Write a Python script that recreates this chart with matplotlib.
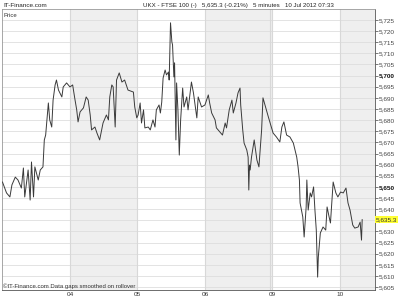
import matplotlib
matplotlib.use("Agg")
import matplotlib.pyplot as plt
import numpy as np

# tempo em dias de pregão desde 03 Jul (0 = início) e preço do FTSE 100
tempo = [0.00, 0.06, 0.11, 0.14, 0.19, 0.23, 0.28, 0.31, 0.33, 0.38, 0.41, 0.43, 0.46, 0.48,
         0.53, 0.56, 0.60, 0.62, 0.64, 0.68, 0.70, 0.73, 0.75, 0.78, 0.80, 0.83, 0.88, 0.90,
         0.95, 1.00, 1.04, 1.07, 1.10, 1.12, 1.15, 1.20, 1.24, 1.27, 1.30, 1.32, 1.37, 1.40,
         1.44, 1.49, 1.54, 1.57, 1.59, 1.62, 1.64, 1.67, 1.69, 1.73, 1.77, 1.81, 1.86, 1.94,
         1.96, 1.99, 2.01, 2.04, 2.06, 2.09, 2.11, 2.16, 2.19, 2.21, 2.23, 2.26, 2.28, 2.32,
         2.34, 2.36, 2.38, 2.41, 2.43, 2.46, 2.47, 2.49, 2.51, 2.52, 2.54, 2.55, 2.57, 2.58,
         2.60, 2.62, 2.64, 2.67, 2.69, 2.73, 2.75, 2.80, 2.83, 2.88, 2.90, 2.95, 3.00, 3.05,
         3.07, 3.10, 3.15, 3.17, 3.22, 3.26, 3.30, 3.32, 3.36, 3.40, 3.42, 3.46, 3.49, 3.52,
         3.53, 3.56, 3.58, 3.62, 3.64, 3.65, 3.66, 3.67, 3.69, 3.73, 3.77, 3.80, 3.84, 3.86,
         3.94, 4.01, 4.06, 4.11, 4.14, 4.17, 4.21, 4.26, 4.31, 4.36, 4.38, 4.40, 4.41, 4.45,
         4.47, 4.50, 4.51, 4.53, 4.56, 4.58, 4.61, 4.63, 4.65, 4.67, 4.68, 4.71, 4.75, 4.79,
         4.81, 4.84, 4.86, 4.88, 4.90, 4.94, 4.97, 5.01, 5.05, 5.09, 5.12, 5.15, 5.19, 5.22,
         5.27, 5.30, 5.32, 5.33]
preco = [5652.2, 5647.3, 5645.5, 5650.9, 5654.4, 5653.1, 5649.5, 5658.5, 5645.5, 5657.6,
         5644.1, 5661.2, 5645.5, 5659.0, 5653.1, 5657.6, 5659.0, 5671.1, 5673.3, 5687.7,
         5680.1, 5676.9, 5689.0, 5695.8, 5698.0, 5693.5, 5690.4, 5694.9, 5696.7, 5694.9,
         5695.8, 5690.0, 5684.6, 5679.2, 5683.7, 5685.5, 5690.4, 5689.0, 5682.3, 5675.6,
         5676.9, 5674.2, 5671.1, 5678.7, 5682.3, 5680.1, 5690.4, 5695.8, 5694.9, 5676.9,
         5698.0, 5701.2, 5697.1, 5698.0, 5693.5, 5692.6, 5685.9, 5681.0, 5682.3, 5687.7,
         5678.7, 5684.6, 5676.5, 5676.9, 5675.6, 5677.8, 5680.1, 5676.9, 5684.6, 5686.8,
         5683.2, 5688.1, 5698.9, 5702.5, 5700.3, 5701.6, 5698.0, 5723.7, 5715.1, 5713.8,
         5699.4, 5705.7, 5671.1, 5696.7, 5684.6, 5664.3, 5680.1, 5694.4, 5685.9, 5690.4,
         5684.6, 5697.1, 5692.2, 5681.0, 5690.4, 5685.9, 5686.8, 5691.3, 5687.7, 5683.2,
         5680.1, 5676.5, 5674.7, 5673.3, 5678.7, 5676.5, 5684.6, 5689.0, 5683.2, 5687.7,
         5692.2, 5694.4, 5686.8, 5675.6, 5669.7, 5666.6, 5663.4, 5648.6, 5659.8, 5657.6,
         5663.4, 5671.1, 5662.1, 5659.0, 5675.6, 5690.0, 5681.4, 5674.2, 5672.4, 5670.2,
         5676.9, 5679.2, 5673.3, 5672.4, 5669.7, 5663.4, 5659.0, 5653.1, 5642.8, 5636.5,
         5627.5, 5641.0, 5653.1, 5639.6, 5647.3, 5645.5, 5650.0, 5639.6, 5630.6, 5609.5,
         5618.5, 5629.3, 5632.0, 5630.6, 5641.0, 5636.5, 5633.8, 5642.8, 5652.2, 5647.3,
         5645.5, 5647.7, 5647.3, 5649.5, 5642.8, 5639.6, 5632.9, 5631.5, 5632.0, 5634.2,
         5626.1, 5635.3]

dias_pos = [1, 2, 3, 4, 5]
dias_rot = ["04", "05", "06", "09", "10"]
faixas = [(1, 2), (3, 4), (5, 5.6)]
ultimo = 5635.3

fonte = "Liberation Sans"
plt.rcParams["font.family"] = [fonte, "DejaVu Sans"]

fig = plt.figure(figsize=(4, 3), dpi=100)
ax = fig.add_axes([0.005, 0.0333, 0.9325, 0.9367])

for a, b in faixas:
    ax.axvspan(a, b, color="#efefef", lw=0, zorder=0)
for p in np.arange(5605, 5730, 5):
    ax.axhline(p, color="#dedede", lw=0.6, zorder=1)
for d in dias_pos:
    ax.axvline(d, color="#d8d8d8", lw=0.8, zorder=1)
ax.axvline(3.97, color="#d8d8d8", lw=0.8, zorder=1)

ax.plot(tempo, preco, color="#3a3a3a", lw=0.7, zorder=3)

ax.set_xlim(-0.007, 5.52)
ax.set_ylim(5603.7, 5729.9)

ax.set_xticks(dias_pos)
ax.set_xticklabels(dias_rot)
ax.tick_params(axis="x", length=0, pad=1.5, labelsize=4.6, colors="#333333")

# o rótulo 5,635 fica escondido pela etiqueta do último preço
ax.yaxis.tick_right()
yt = list(range(5605, 5730, 5))
ax.set_yticks(yt)
ax.set_yticklabels(["" if v == 5635 else f"{v:,}" for v in yt])
ax.tick_params(axis="y", length=2, width=0.5, pad=0.8, labelsize=4.6,
               colors="#444444")
for lbl in ax.get_yticklabels():
    if lbl.get_text() in ("5,700", "5,650"):
        lbl.set_fontweight("bold")
        lbl.set_color("#111111")

for s in ax.spines.values():
    s.set_color("#999999")
    s.set_linewidth(0.6)
ax.spines["right"].set_color("#555555")
ax.spines["bottom"].set_color("#555555")

ax.text(1.002, ultimo, "5,635.3", transform=ax.get_yaxis_transform(),
        fontsize=4.6, va="center", ha="left", color="#333333",
        bbox=dict(boxstyle="square,pad=0.15", fc="#ffff33", ec="none"))

ax.text(0.004, 0.985, "Price", transform=ax.transAxes, fontsize=4.3,
        va="top", ha="left", color="#333333")
ax.text(0.002, 0.004, "©IT-Finance.com Data gaps smoothed on rollover",
        transform=ax.transAxes, fontsize=4.3, va="bottom", ha="left",
        color="#333333")

fig.text(0.008, 0.983, "IT-Finance.com", fontsize=4.6, va="center", ha="left",
         color="#222222")
fig.text(0.357, 0.983, "UKX - FTSE 100 (-)   5,635.3 (-0.21%)   5 minutes   10 Jul 2012 07:33",
         fontsize=4.4, va="center", ha="left", color="#222222")

fig.savefig("out.png", dpi=100)
